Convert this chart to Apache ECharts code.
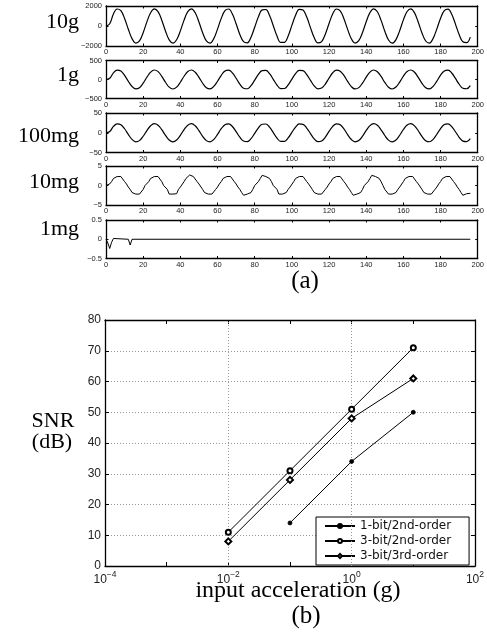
<!DOCTYPE html>
<html><head><meta charset="utf-8">
<script src="https://cdn.jsdelivr.net/npm/echarts@6/dist/echarts.min.js"></script>
<style>html,body{margin:0;padding:0;background:#fff}#c{width:487px;height:638px}</style>
</head><body><div id="c"></div>
<script>
// ================= DATA: panel (a) =================
const panelNames = ['10g', '1g', '100mg', '10mg', '1mg'];
const panelLimits = [2000, 500, 50, 5, 0.5];
const timeMin = 0, timeMax = 200, timeStep = 20;
const COARSE_STEP = 2;   // sample spacing of the three sinusoid traces
const FINE_STEP = 1;     // sample spacing of the 10mg trace

const trace10g = [0, 230, 1200, 1700, 1530, 750, -320, -1260, -1710, -1490,
 -670, 410, 1330, 1720, 1430, 580, -500, -1390, -1720, -1380,
 -490, 590, 1440, 1720, 1320, 400, -680, -1490, -1710, -1260,
 -310, 760, 1530, 1700, 1190, 220, -840, -1570, -1680, -1120,
 -120, 920, 1610, 1650, 1050, 30, -1010, -1640, -1630, -990,
 60, 1080, 1660, 1590, 890, -160, -1150, -1690, -1560, -820,
 250, 1220, 1700, 1520, 730, -340, -1280, -1710, -1470, -650,
 430, 1340, 1720, 1420, 560, -520, -1400, -1720, -1360, -470,
 610, 1450, 1720, 1310, 380, -700, -1500, -1710, -1240, -290,
 780, 1540, 1690, 1170, 190, -860, -1580, -1670, -1110];

const trace1g = [0, 33, 174, 247, 222, 109, -47, -184, -249, -216,
 -97, 60, 193, 250, 208, 84, -73, -202, -250, -200,
 -72, 86, 209, 250, 192, 58, -99, -217, -249, -183,
 -45, 111, 223, 247, 173, 32, -122, -229, -244, -163,
 -18, 134, 234, 241, 153, 5, -146, -238, -237, -143,
 9, 157, 242, 232, 130, -23, -167, -245, -226, -119,
 36, 177, 247, 220, 106, -50, -186, -249, -214, -94,
 63, 195, 250, 206, 81, -76, -203, -250, -198, -69,
 89, 211, 250, 190, 55, -101, -218, -248, -180, -42,
 114, 224, 246, 171, 28, -125, -230, -243, -161];

const trace100mg = [0, 3.0, 16.0, 22.7, 20.4, 10.1, -4.3, -16.9, -22.9, -19.9,
 -8.9, 5.5, 17.7, 23.0, 19.1, 7.8, -6.7, -18.5, -23.0, -18.4,
 -6.6, 7.9, 19.2, 23.0, 17.6, 5.4, -9.1, -19.9, -22.9, -16.8,
 -4.1, 10.2, 20.5, 22.7, 15.9, 2.9, -11.2, -21.0, -22.4, -15.0,
 -1.6, 12.4, 21.5, 22.1, 14.0, 0.4, -13.5, -21.9, -21.8, -13.2,
 0.9, 14.4, 22.3, 21.3, 12.0, -2.1, -15.4, -22.5, -20.8, -11.0,
 3.3, 16.3, 22.7, 20.3, 9.8, -4.6, -17.1, -22.9, -19.7, -8.7,
 5.8, 17.9, 23.0, 19.0, 7.5, -7.0, -18.7, -23.0, -18.2, -6.3,
 8.2, 19.4, 23.0, 17.5, 5.1, -9.3, -20.1, -22.8, -16.6, -3.8,
 10.4, 20.6, 22.6, 15.7, 2.6, -11.5, -21.1, -22.4, -14.8];

const trace10mg = [0, 0, 0.4, 1.0, 1.8, 2.3, 2.3, 2.3, 2.3, 1.8,
 1.0, 0.4, -0.4, -1.0, -1.8, -2.2, -2.2, -2.2, -2.2, -1.8,
 -1.0, 0.0, 0.4, 1.0, 1.8, 2.3, 2.3, 2.3, 2.3, 1.8,
 1.0, 0.0, -0.4, -1.0, -2.2, -2.5, -2.2, -2.2, -2.1, -1.0,
 -0.4, 0.0, 1.0, 1.8, 2.3, 2.7, 2.4, 2.3, 1.8, 1.0,
 0.4, 0.0, -1.0, -1.8, -2.2, -2.2, -2.2, -2.2, -1.8, -1.0,
 -0.4, 0.4, 1.0, 1.8, 2.3, 2.3, 2.3, 2.3, 1.8, 1.0,
 0.4, -0.4, -1.0, -1.8, -2.5, -2.2, -2.2, -2.2, -1.8, -1.0,
 0.0, 0.4, 1.0, 1.8, 2.6, 2.4, 2.3, 2.3, 1.8, 1.0,
 0.0, -0.4, -1.0, -2.2, -2.2, -2.2, -2.2, -1.8, -1.0, -0.4,
 0.0, 1.0, 1.8, 2.3, 2.3, 2.3, 2.3, 1.8, 1.0, 0.4,
 0.0, -1.0, -1.8, -2.2, -2.2, -2.2, -2.2, -1.8, -1.0, -0.4,
 0.4, 1.0, 1.8, 2.3, 2.3, 2.3, 2.3, 1.8, 1.0, 0.4,
 -0.4, -1.0, -1.8, -2.5, -2.2, -2.2, -2.2, -1.8, -1.0, 0.0,
 0.4, 1.0, 1.8, 2.6, 2.4, 2.3, 2.3, 1.8, 1.0, 0.0,
 -1.0, -1.0, -2.2, -2.2, -2.2, -2.2, -1.8, -1.0, -0.4, 0.0,
 1.0, 1.8, 2.3, 2.3, 2.3, 2.3, 1.8, 1.0, 0.4, 0.0,
 -1.0, -1.8, -2.2, -2.2, -2.2, -2.2, -1.8, -1.0, -0.4, 0.4,
 1.0, 1.8, 2.3, 2.3, 2.3, 2.3, 1.8, 1.0, 0.4, -0.4,
 -1.0, -1.8, -2.5, -2.2, -2.1, -2.2, -2.0];

const trace1mgTime = [0, 1, 2, 3, 4, 5, 12, 13, 14, 15, 196];
const trace1mg     = [0, -0.1, -0.24, -0.08, 0.02, 0, 0, -0.15, 0, 0, 0];

// ================= DATA: panel (b) =================
const seriesNames = ['1-bit/2nd-order', '3-bit/2nd-order', '3-bit/3rd-order'];
const accel1bit2nd = [0.1, 1, 10];
const snr1bit2nd   = [14, 34, 50];
const accel3bit2nd = [0.01, 0.1, 1, 10];
const snr3bit2nd   = [11, 31, 51, 71];
const accel3bit3rd = [0.01, 0.1, 1, 10];
const snr3bit3rd   = [8, 28, 48, 61];
const accelMin = 1e-4, accelMax = 1e2;
const snrMin = 0, snrMax = 80, snrStep = 10;
const accelGridLines = [0.01, 1];

// ================= BUILD OPTION =================
const SANS = 'Liberation Sans';
const SERIF = 'Liberation Serif';
const BLACK = '#000';
const minusFmt = v => (v < 0 ? '\u2212' : '') + Math.abs(v);

const panelTops = [6, 60.5, 113, 166, 220];
const panelHeights = [40, 38, 39.5, 39, 38.5];
const panelTraces = [
  trace10g.map((v, i) => [i * COARSE_STEP, v]),
  trace1g.map((v, i) => [i * COARSE_STEP, v]),
  trace100mg.map((v, i) => [i * COARSE_STEP, v]),
  trace10mg.map((v, i) => [i * FINE_STEP, v]),
  trace1mg.map((v, i) => [trace1mgTime[i], v])
];

const grids = [], xAxes = [], yAxes = [], series = [];
const boxLine = { show: true, onZero: false, lineStyle: { color: BLACK, width: 1.3 } };
const inTick = len => ({ show: true, inside: true, length: len, lineStyle: { color: BLACK, width: 1 } });

panelNames.forEach((name, i) => {
  const lim = panelLimits[i];
  grids.push({ left: 106, width: 373, top: panelTops[i], height: panelHeights[i] });
  xAxes.push({ gridIndex: i, type: 'value', position: 'bottom', min: timeMin, max: timeMax, interval: timeStep,
    axisLine: boxLine, axisTick: inTick(2.5), splitLine: { show: false },
    axisLabel: { fontSize: 7.5, fontFamily: SANS, color: '#222', margin: 2, formatter: minusFmt } });
  xAxes.push({ gridIndex: i, type: 'value', position: 'top', min: timeMin, max: timeMax, interval: timeStep,
    axisLine: boxLine, axisTick: inTick(2.5), splitLine: { show: false }, axisLabel: { show: false } });
  yAxes.push({ gridIndex: i, type: 'value', position: 'left', min: -lim, max: lim, interval: lim,
    axisLine: boxLine, axisTick: inTick(2.5), splitLine: { show: false },
    axisLabel: { fontSize: 7.5, fontFamily: SANS, color: '#222', margin: 4, formatter: minusFmt } });
  yAxes.push({ gridIndex: i, type: 'value', position: 'right', min: -lim, max: lim, interval: lim,
    axisLine: boxLine, axisTick: inTick(2.5), splitLine: { show: false }, axisLabel: { show: false } });
  series.push({ type: 'line', name: name, xAxisIndex: 2 * i, yAxisIndex: 2 * i, data: panelTraces[i],
    showSymbol: false, smooth: i < 3 ? 0.4 : false, silent: true,
    lineStyle: { color: BLACK, width: i < 3 ? 1.2 : 1 } });
});

// panel (b)
const B = panelNames.length;
grids.push({ left: 105, width: 371, top: 320, height: 246 });
const logLabel = v => {
  const e = Math.round(Math.log10(v));
  if (e % 2 !== 0) return '';
  return '{b|10}{s|' + (e < 0 ? '\u2212' : '') + Math.abs(e) + '}';
};
xAxes.push({ gridIndex: B, type: 'log', logBase: 10, position: 'bottom', min: accelMin, max: accelMax,
  axisLine: boxLine, axisTick: inTick(4), splitLine: { show: false }, minorTick: { show: false },
  axisLabel: { margin: 4, formatter: logLabel, rich: {
    b: { fontSize: 12, fontFamily: SANS, color: '#222', lineHeight: 16, verticalAlign: 'bottom' },
    s: { fontSize: 8.5, fontFamily: SANS, color: '#222', lineHeight: 6, verticalAlign: 'top' } } } });
xAxes.push({ gridIndex: B, type: 'log', logBase: 10, position: 'top', min: accelMin, max: accelMax,
  axisLine: boxLine, axisTick: inTick(4), splitLine: { show: false }, axisLabel: { show: false } });
yAxes.push({ gridIndex: B, type: 'value', position: 'left', min: snrMin, max: snrMax, interval: snrStep,
  axisLine: boxLine, axisTick: inTick(4),
  splitLine: { show: true, lineStyle: { color: '#999', width: 1, type: [1, 2] } },
  axisLabel: { fontSize: 12, fontFamily: SANS, color: '#222', margin: 4 } });
yAxes.push({ gridIndex: B, type: 'value', position: 'right', min: snrMin, max: snrMax, interval: snrStep,
  axisLine: boxLine, axisTick: inTick(4), splitLine: { show: false }, axisLabel: { show: false } });

const bSeries = [
  { name: seriesNames[0], x: accel1bit2nd, y: snr1bit2nd, symbol: 'circle', size: 4 },
  { name: seriesNames[1], x: accel3bit2nd, y: snr3bit2nd, symbol: 'emptyCircle', size: 5 },
  { name: seriesNames[2], x: accel3bit3rd, y: snr3bit3rd, symbol: 'emptyDiamond', size: 6 }
];
bSeries.forEach((s, k) => {
  const ser = { type: 'line', name: s.name, xAxisIndex: 2 * B, yAxisIndex: 2 * B,
    data: s.x.map((v, i) => [v, s.y[i]]), symbol: s.symbol, symbolSize: s.size, showSymbol: true,
    lineStyle: { color: BLACK, width: 1 }, itemStyle: { color: BLACK, borderColor: BLACK, borderWidth: 0.8 },
    z: 5 };
  if (k === 0) {
    ser.markLine = { silent: true, symbol: 'none', label: { show: false }, animation: false,
      lineStyle: { color: '#999', width: 1, type: [1, 2] },
      data: accelGridLines.map(v => ({ xAxis: v })) };
  }
  series.push(ser);
});

const txt = (text, x, y, size, align) => ({ type: 'text', x: x, y: y, silent: true,
  style: { text: text, fontSize: size, fontFamily: SERIF, fill: BLACK, align: align || 'center', verticalAlign: 'middle' } });

const labelYs = [22, 75, 136.5, 182.5, 229];
const graphics = panelNames.map((n, i) => txt(n, 79, labelYs[i], 22, 'right'));
graphics.push(txt('(a)', 305, 281, 25));
graphics.push(txt('SNR', 53, 421.5, 22));
graphics.push(txt('(dB)', 52, 442, 22));
graphics.push(txt('input acceleration (g)', 298, 591, 24));
graphics.push(txt('(b)', 306, 616.5, 25));

const option = {
  animation: false,
  backgroundColor: '#fff',
  grid: grids,
  xAxis: xAxes,
  yAxis: yAxes,
  series: series,
  legend: {
    data: seriesNames, orient: 'vertical', left: 316, top: 517,
    itemWidth: 30, itemHeight: 5, itemGap: 3, padding: [3, 18, 3, 8],
    borderColor: BLACK, borderWidth: 1, backgroundColor: '#fff', selectedMode: false,
    textStyle: { fontSize: 12, fontFamily: 'DejaVu Sans', color: '#111', lineHeight: 12 }
  },
  graphic: graphics
};

const chart = echarts.init(document.getElementById('c'), null, { renderer: 'canvas' });
chart.setOption(option);
</script>
</body></html>
